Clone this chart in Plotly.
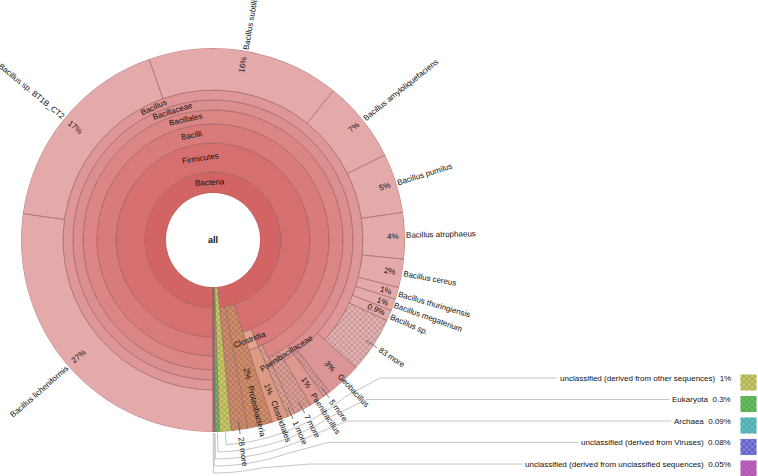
import math
import plotly.graph_objects as go

# ---------------- data (percent of all reads) ----------------
names = ["Bacteria", "Firmicutes", "Bacilli", "Bacillales", "Bacillaceae", "Bacillus",
         "Bacillus licheniformis", "Bacillus sp. BT1B_CT2", "Bacillus subtilis",
         "Bacillus amyloliquefaciens", "Bacillus pumilus", "Bacillus atrophaeus",
         "Bacillus cereus", "Bacillus thuringiensis", "Bacillus megaterium",
         "Bacillus sp.", "83 more",
         "Geobacillus", "5 more",
         "Paenibacillaceae", "Paenibacillus", "7 more", "1 more",
         "Clostridia", "Clostridiales",
         "Proteobacteria", "28 more",
         "unclassified (derived from other sequences)", "Eukaryota", "Archaea",
         "unclassified (derived from Viruses)",
         "unclassified (derived from unclassified sequences)"]
parents = ["all", "Bacteria", "Firmicutes", "Bacilli", "Bacillales", "Bacillaceae"] + \
          ["Bacillus"] * 11 + \
          ["Bacillaceae", "Bacillaceae",
           "Bacillales", "Paenibacillaceae", "Bacillales", "Bacilli",
           "Firmicutes", "Clostridia",
           "Bacteria", "Bacteria",
           "all", "all", "all", "all", "all"]
percent = [98.48, 95.0, 93.6, 93.0, 90.2, 86.6,
           27.2, 17.4, 16.2, 6.9, 5.0, 3.9, 2.4, 1.0, 1.0, 0.9, 4.7,
           3.0, 0.6,
           1.3, 1.3, 1.5, 0.6,
           1.4, 1.4,
           2.1, 1.38,
           1.0, 0.3, 0.09, 0.08, 0.05]
inner_labels = ["Bacteria", "Firmicutes", "Bacilli", "Bacillales", "Bacillaceae",
                "Bacillus", "Clostridia", "Paenibacillaceae"]
keyed = ["unclassified (derived from other sequences)", "Eukaryota", "Archaea",
         "unclassified (derived from Viruses)",
         "unclassified (derived from unclassified sequences)"]

# ---------------- styling / geometry ----------------
W, H = 758, 476
CX, CY, R = 213, 240, 192
RINGS = [47, 68, 97, 116, 130, 140, 150, R]
FONT = "Liberation Sans, Arial, sans-serif"
FS = 8

fill = {
    "Bacteria": "#d36464", "Firmicutes": "#d67070", "Bacilli": "#d97b7b",
    "Bacillales": "#db8585", "Bacillaceae": "#dd8e8e", "Bacillus": "#df9696",
    "83 more": "#e6b0b0", "Geobacillus": "#dc9595", "5 more": "#dc9898",
    "Paenibacillaceae": "#e0a09a", "Paenibacillus": "#dd9890", "7 more": "#dd9c94",
    "1 more": "#dea090", "Clostridia": "#e0a48e", "Clostridiales": "#dc9a82",
    "Proteobacteria": "#d28c68", "28 more": "#d08a6c",
    "unclassified (derived from other sequences)": "#c8c864",
    "Eukaryota": "#64c05a", "Archaea": "#5ac0c0",
    "unclassified (derived from Viruses)": "#6262cc",
    "unclassified (derived from unclassified sequences)": "#c260c2",
}
SPECIES_FILL = "#e4a9a9"
hatched = {"83 more", "5 more", "7 more", "1 more", "28 more", "Proteobacteria"} | set(keyed)
name_start_override = {"Geobacillus": 185, "Paenibacillus": 183,
                       "Clostridiales": 172, "Proteobacteria": 151}

def darker(hexc, f=0.85):
    r, g, b = int(hexc[1:3], 16), int(hexc[3:5], 16), int(hexc[5:7], 16)
    return "rgb(%d,%d,%d)" % (r * f, g * f, b * f)

AW = {' ': 278, '%': 889, '(': 333, ')': 333, '.': 278, '_': 556, '\u00a0': 278}
for ch in "0123456789": AW[ch] = 556
AW.update(dict(A=667, B=667, C=722, D=722, E=667, F=611, G=778, H=722, I=278, J=500, K=667,
               L=556, M=833, N=722, O=778, P=667, Q=778, R=722, S=667, T=611, U=722, V=667,
               W=944, X=667, Y=667, Z=611, a=556, b=556, c=500, d=556, e=556, f=278, g=556,
               h=556, i=222, j=222, k=500, l=222, m=833, n=556, o=556, p=556, q=556, r=333,
               s=500, t=278, u=556, v=500, w=722, x=500, y=500, z=500))

def tw(s, size=FS):
    return sum(AW.get(c, 556) for c in s) * size / 1000.0

def fmt(v):
    return "%d%%" % round(v) if v >= 1 else ("%.1g" % v) + "%"

# ---------------- tree layout ----------------
val = dict(zip(names, percent))
children = {}
for n, p in zip(names, parents):
    children.setdefault(p, []).append(n)
start, depth = {}, {"all": 0}

def walk(node, s):
    cur = s
    for c in children.get(node, []):
        start[c] = cur
        depth[c] = depth[node] + 1
        walk(c, cur)
        cur += val[c]

walk("all", 0.0)

def is_leaf(n):
    return n not in children

thetas, widths, bases, lens, colors, shapes_p, fgs = [], [], [], [], [], [], []
for n in names:
    d = depth[n]
    inner = RINGS[d - 1]
    outer = R if is_leaf(n) else RINGS[d]
    thetas.append((start[n] + val[n] / 2) * 3.6)
    widths.append(val[n] * 3.6)
    bases.append(inner)
    lens.append(outer - inner)
    c = fill.get(n, SPECIES_FILL)
    colors.append(c)
    shapes_p.append("x" if n in hatched else "")
    fgs.append(darker(c, 0.88))

fig = go.Figure()
fig.add_trace(go.Barpolar(
    theta=thetas, width=widths, base=bases, r=lens,
    marker=dict(color=colors, line=dict(color="rgba(150,95,95,0.8)", width=0.7),
                pattern=dict(shape=shapes_p, fgcolor=fgs, size=4, solidity=0.25)),
    hoverinfo="skip", showlegend=False))

# ---------------- helpers for labels ----------------
def pt(r, phi):
    a = math.radians(phi)
    return CX - r * math.sin(a), CY + r * math.cos(a)

def radial_angle(phi):
    a = math.radians(phi)
    ux, uy = -math.sin(a), math.cos(a)
    if phi % 360 > 180:
        dx, dy = ux, uy
    else:
        dx, dy = -ux, -uy
    return math.degrees(math.atan2(dy, dx))

def tangent_angle(phi):
    p = phi % 360
    if 90 <= p <= 270:
        return p - 180
    return p - 360 if p > 270 else p

annotations, shapes = [], []

def add_text(x, y, text, angle=0, size=FS, bold=False, xanchor="center"):
    annotations.append(dict(x=x, y=y, xref="x", yref="y", text=("<b>%s</b>" % text) if bold else text,
                            showarrow=False, textangle=angle, xanchor=xanchor, yanchor="middle",
                            font=dict(family=FONT, size=size, color="#111")))

def add_path(points, color="#c4c4c4", width=1):
    path = "M " + " L ".join("%.2f %.2f" % p for p in points)
    shapes.append(dict(type="path", path=path, xref="x", yref="y", layer="above",
                       line=dict(color=color, width=width)))

# center label
add_text(CX, CY, "all", size=9, bold=True)

# inner tangential labels
for n in inner_labels:
    d = depth[n]
    phi = (start[n] + val[n] / 2) * 3.6
    rm = (RINGS[d - 1] + RINGS[d]) / 2
    x, y = pt(rm, phi)
    add_text(x, y, n, angle=tangent_angle(phi))

# outer labels for leaves
for n in names:
    if not is_leaf(n) or n in keyed:
        continue
    phi = (start[n] + val[n] / 2) * 3.6
    ang = radial_angle(phi)
    if n.endswith(" more"):
        add_path([pt(183, phi), pt(196, phi)], color="#555555", width=0.8)
        r0 = 199
        x, y = pt(r0 + tw(n) / 2, phi)
        add_text(x, y, n, angle=ang)
    else:
        r0 = name_start_override.get(n, 193)
        x, y = pt(r0 + tw(n) / 2, phi)
        add_text(x, y, n, angle=ang)
        p = fmt(val[n])
        x, y = pt(r0 - 7 - tw(p) / 2, phi)
        add_text(x, y, p, angle=ang)

# keys for the tiny top-level nodes
KEY_Y = [378, 399.5, 421, 442.5, 464]
KEY_RIGHT = 733
KEY_SQ_X = 748.5
SQ = 17
KEY_ARC_R = [205, 212, 219, 226, 233]
KEY_ARC_END = [40, 33, 26, 19, 12]
KEY_HSTART = [380, 367, 347, 328, 310]

for i, n in enumerate(keyed):
    phi = (start[n] + val[n] / 2) * 3.6
    txt = n + "\u00a0\u00a0" + fmt(val[n])
    add_text(KEY_RIGHT, KEY_Y[i], txt, xanchor="right")
    left = KEY_RIGHT - tw(txt) - 5
    pts = [pt(R + 1, phi), pt(KEY_ARC_R[i], phi)]
    end_phi = 360 - KEY_ARC_END[i]
    steps = 30
    for k in range(1, steps + 1):
        pts.append(pt(KEY_ARC_R[i], phi + (end_phi - phi) * k / steps))
    pts.append((KEY_HSTART[i], KEY_Y[i]))
    pts.append((left, KEY_Y[i]))
    add_path(pts)

fig.add_trace(go.Bar(
    x=[KEY_SQ_X] * len(keyed), y=[SQ] * len(keyed), base=[y - 4 for y in KEY_Y], width=SQ,
    marker=dict(color=[fill[n] for n in keyed],
                line=dict(color="rgba(255,255,255,0.9)", width=1),
                pattern=dict(shape="x", fgcolor=[darker(fill[n], 0.85) for n in keyed],
                             size=4, solidity=0.25)),
    hoverinfo="skip", showlegend=False, xaxis="x", yaxis="y"))

fig.update_layout(
    width=W, height=H, margin=dict(l=0, r=0, t=0, b=0, pad=0),
    paper_bgcolor="white", plot_bgcolor="rgba(0,0,0,0)",
    xaxis=dict(range=[0, W], domain=[0, 1], visible=False, fixedrange=True),
    yaxis=dict(range=[H, 0], domain=[0, 1], visible=False, fixedrange=True),
    polar=dict(
        domain=dict(x=[(CX - R) / W, (CX + R) / W], y=[1 - (CY + R) / H, 1 - (CY - R) / H]),
        hole=RINGS[0] / R, bgcolor="white",
        radialaxis=dict(visible=False, range=[RINGS[0], R]),
        angularaxis=dict(visible=False, rotation=-90, direction="clockwise")),
    annotations=annotations, shapes=shapes, showlegend=False)

fig.write_html("out.html", config={"displayModeBar": False},
               post_script="document.body.style.margin='0';document.body.style.overflow='hidden';")
